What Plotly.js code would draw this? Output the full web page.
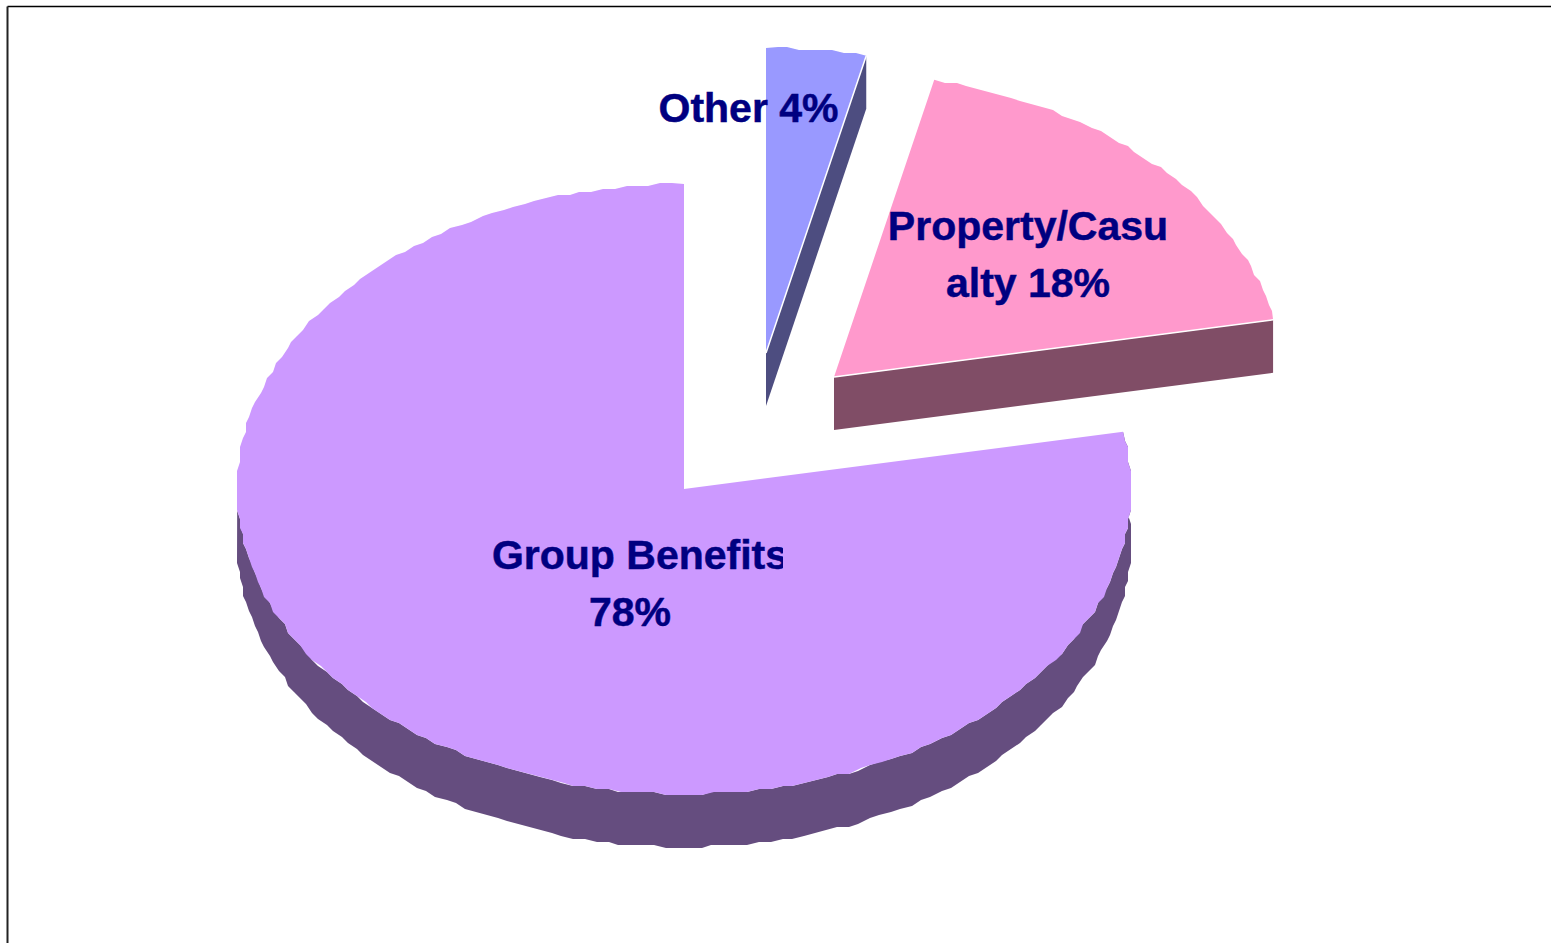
<!DOCTYPE html>
<html>
<head>
<meta charset="utf-8">
<script src="https://cdn.plot.ly/plotly-3.0.1.min.js"></script>
<style>
html,body{margin:0;padding:0;background:#fff;overflow:hidden}
#chart{width:1551px;height:943px}
#chart .textpoint text{stroke:#000080;stroke-width:0.5px}
</style>
</head>
<body>
<div id="chart"></div>
<script>
// Data (clockwise from 12 o'clock)
const categories = ["Other", "Property/Casualty", "Group Benefits"];
const shares = [3.6, 18.4, 78];
const labelLines = [["Other 4%"], ["Property/Casu", "alty 18%"], ["Group Benefits", "78%"]];
const topColors = ["#9999FF", "#FF99CC", "#CC99FF"];
const sideColors = ["#4D4D80", "#804D66", "#654D7F"];

// Pie projection (tilted ellipse, exploded slices)
const centers = [[766, 353], [834, 377], [684, 489]];
const labelXs = [[748.5], [1028, 1028], [640, 630]];
const labelYs = [[112], [230, 287], [559, 616]];
const RX = 447, RY = 305, DEPTH = 53;
const STEP = 1.5, GRID = 3;

function pt(c, deg, dy) {
  const t = deg * Math.PI / 180;
  return [c[0] + RX * Math.sin(t), c[1] - RY * Math.cos(t) + (dy || 0)];
}
// Rim sampled and snapped to a coarse grid: the reference's rim is a faceted, low-resolution outline
function arc(c, a, b, dy) {
  const out = [];
  const n = Math.max(1, Math.ceil(Math.abs(b - a) / STEP));
  for (let i = 0; i <= n; i++) {
    const p = pt(c, a + (b - a) * i / n, 0);
    if (i > 0 && i < n) {
      p[0] = c[0] + Math.round((p[0] - c[0]) / GRID) * GRID;
      p[1] = c[1] + Math.round((p[1] - c[1]) / GRID) * GRID;
    }
    p[1] += dy || 0;
    out.push(p);
  }
  return out;
}
function poly(points, color) {
  return {
    type: "scatter", mode: "lines", fill: "toself", fillcolor: color,
    x: points.map(p => p[0]), y: points.map(p => p[1]),
    line: {width: 0, color: color}, hoverinfo: "skip", showlegend: false
  };
}
function edge(p, q) {
  return {
    type: "scatter", mode: "lines", x: [p[0], q[0]], y: [p[1], q[1]],
    line: {width: 1.5, color: "#FFFFFF"}, hoverinfo: "skip", showlegend: false
  };
}

// Cumulative angles from the shares
const total = shares.reduce((a, b) => a + b, 0);
const starts = [], ends = [];
let acc = 0;
shares.forEach(v => { starts.push(acc / total * 360); acc += v; ends.push(acc / total * 360); });

const traces = [];
// Group Benefits: curved rim
{
  const c = centers[2], b = 272;
  traces.push(poly(arc(c, starts[2], b, 0).concat(arc(c, b, starts[2], DEPTH)), sideColors[2]));
  traces.push(poly([c].concat(arc(c, starts[2], ends[2], 0)), topColors[2]));
}
// Property/Casualty: flat front face
{
  const c = centers[1], e = pt(c, ends[1], 0);
  traces.push(poly([c, e, [e[0], e[1] + DEPTH], [c[0], c[1] + DEPTH]], sideColors[1]));
  traces.push(poly([c].concat(arc(c, starts[1], ends[1], 0)), topColors[1]));
  traces.push(edge(c, e));
}
// Other: flat right face
{
  const c = centers[0], e = pt(c, ends[0], 0);
  traces.push(poly([c, e, [e[0], e[1] + DEPTH], [c[0], c[1] + DEPTH]], sideColors[0]));
  traces.push(poly([c].concat(arc(c, starts[0], ends[0], 0)), topColors[0]));
  traces.push(edge(c, e));
}
// Labels
traces.push({
  type: "scatter", mode: "text",
  x: labelXs.flat(), y: labelYs.flat(), text: labelLines.flat(),
  textposition: "middle center",
  textfont: {family: "Liberation Sans, Arial, sans-serif", size: 41, color: "#000080", weight: 700},
  hoverinfo: "skip", showlegend: false, cliponaxis: false
});

const layout = {
  width: 1551, height: 943,
  margin: {l: 0, r: 0, t: 0, b: 0},
  paper_bgcolor: "#FFFFFF", plot_bgcolor: "#FFFFFF",
  xaxis: {range: [0, 1551], visible: false, fixedrange: true},
  yaxis: {range: [943, 0], visible: false, fixedrange: true},
  shapes: [
    {type: "line", xref: "paper", yref: "paper", x0: 7.5 / 1551, x1: 1, y0: 1 - 6.5 / 943, y1: 1 - 6.5 / 943, line: {color: "#000000", width: 1.5}},
    {type: "line", xref: "paper", yref: "paper", x0: 7.5 / 1551, x1: 7.5 / 1551, y0: 0, y1: 1 - 6.5 / 943, line: {color: "#222222", width: 2}},
    // The reference cuts the last letter of "Group Benefits" at this edge
    {type: "rect", xref: "x", yref: "y", layer: "above", x0: 783, x1: 792, y0: 532, y1: 582, fillcolor: topColors[2], line: {width: 0}}
  ]
};
Plotly.newPlot("chart", traces, layout, {displayModeBar: false, staticPlot: true});
</script>
</body>
</html>
